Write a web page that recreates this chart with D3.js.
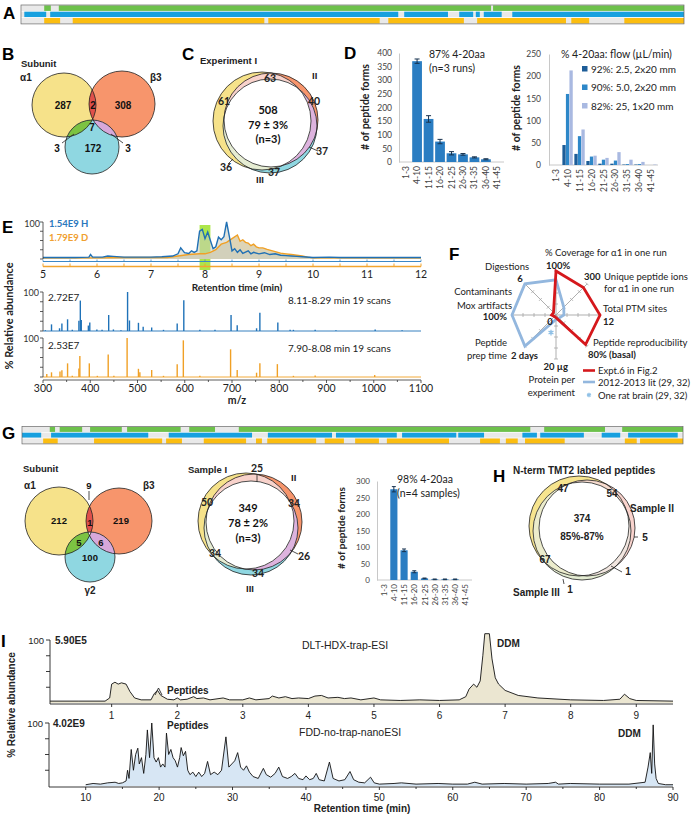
<!DOCTYPE html>
<html lang="en">
<head>
<meta charset="UTF-8">
<title>Figure panels A-I</title>
<script src="https://cdnjs.cloudflare.com/ajax/libs/d3/7.8.5/d3.min.js"></script>
<style>
  body { margin: 0; background: #fff; }
  svg { display: block; }
</style>
</head>
<body>
<svg id="fig" width="697" height="816"></svg>
<script>
// ---------- data ----------
// sequence coverage (% of sequence), A and G
const covA_green  = [[3.5,4.5],[5.7,70.9],[71.2,100]];
const covA_blue   = [[0.5,3.8],[4.4,56.9],[57.8,64.4],[66.1,68.2],[68.6,69.2],[69.8,72.5],[74.1,100]];
const covA_orange = [[3.5,5.9],[7.8,36.7],[37.3,54.1],[55.4,66.8],[68.8,82.2],[83.0,85.7],[91.0,100]];
const covG_green  = [[4.2,5.0],[5.7,9.1],[10.3,15.1],[15.9,24.0],[25.3,29.2],[32.8,76.9],[79.0,88.2],[90.8,100]];
const covG_blue   = [[0,2.9],[4.4,19.1],[22.2,34.8],[37.2,46.9],[47.5,56.7],[57.5,65.7],[66.0,69.9],[75.7,77.9],[78.4,85.0],[87.7,90.5],[91.7,99.2]];
const covG_orange = [[3.2,5.4],[10.9,21.2],[21.8,24.2],[27.5,33.9],[35.4,36.3],[37.1,44.5],[45.8,48.7],[50.4,54.0],[55.2,64.6],[69.3,72.3],[73.2,75.0],[76.1,82.1],[91.2,93.0],[93.5,100]];

// venn counts
const subunitNames = ["α1","β3","γ2"];
const vennB_labels = ["287","308","172","2","3","3","7"];
const vennC_labels = ["61","40","37","63","37","36"];
const vennC_center = ["508","79 ± 3%","(n=3)"];
const vennG_labels = ["212","219","100","9","1","5","6"];
const vennGs_labels = ["50","34","34","25","26","34"];
const vennGs_center = ["349","78 ± 2%","(n=3)"];
const vennH_labels = ["47","54","67","5","1","1"];
const vennH_center = ["374","85%-87%"];

// peptide length distributions
const lengthBins = ["1-3","4-10","11-15","16-20","21-25","26-30","31-35","36-40","41-45"];
const runMean = [0,370,158,75,32,28,17,10,0];
const runErr  = [0,8,12,8,6,3,2,2,0];
const flowNames = ["92%: 2.5, 2x20 mm","90%: 5.0, 2x20 mm","82%: 25, 1x20 mm"];
const flow2_5 = [0,45,25,9,3,3,1,1,0];
const flow5_0 = [0,160,65,19,12,10,2,2,0];
const flow25  = [0,213,80,21,16,29,12,7,1];
const sampMean = [0,275,90,25,5,2,2,2,0];
const sampErr  = [0,8,4,3,1,1,1,1,0];

// E: chromatograms (min, %)
const ticH = [[5.0,4],[5.3,4],[5.6,4],[5.85,5],[5.88,12],[5.92,5],[6.1,5],[6.2,8],[6.3,7],[6.5,5],[6.8,5],[7.0,5],[7.2,6],[7.4,8],[7.5,14],[7.55,30],[7.62,17],[7.7,15],[7.75,22],[7.8,18],[7.85,22],[7.9,75],[7.95,80],[8.0,55],[8.05,73],[8.1,50],[8.15,28],[8.2,33],[8.25,59],[8.3,52],[8.35,60],[8.4,100],[8.45,62],[8.5,22],[8.55,28],[8.6,18],[8.65,25],[8.7,15],[8.8,22],[8.85,14],[8.9,18],[9.0,14],[9.1,17],[9.2,12],[9.3,14],[9.4,10],[9.5,9],[9.6,8],[9.7,7],[9.8,6],[10.0,4],[10.3,5],[10.5,4],[11.0,4],[11.5,4],[12.0,4]];
const ticD = [[5.0,3],[5.5,3],[6.0,3],[6.5,4],[7.0,4],[7.3,4],[7.5,8],[7.7,12],[7.9,14],[8.0,14],[8.1,18],[8.2,25],[8.3,40],[8.4,45],[8.5,55],[8.6,65],[8.65,48],[8.7,52],[8.75,45],[8.8,43],[8.85,36],[8.9,40],[8.95,33],[9.0,30],[9.07,30],[9.15,26],[9.2,24],[9.3,20],[9.4,16],[9.5,14],[9.6,12],[9.7,10],[9.8,8],[9.9,5],[10.0,3],[10.5,3],[11,3],[12,3]];
// E: spectra (m/z, %)
const specH = [[305,2],[318,17],[335,7],[340,19],[352,30],[362,3],[376,26],[379,78],[381,28],[396,14],[399,22],[414,4],[425,3],[439,41],[449,4],[465,2],[479,100],[483,27],[502,21],[512,11],[530,9],[555,3],[584,19],[598,79],[632,3],[664,3],[698,41],[711,15],[752,7],[759,47],[797,22],[823,3],[830,3],[876,3],[920,2],[1003,4],[1060,2]];
const specD = [[308,8],[318,12],[336,14],[340,17],[352,35],[362,3],[376,22],[378,54],[398,35],[415,3],[438,58],[450,3],[478,100],[502,21],[505,12],[530,18],[555,3],[584,33],[597,94],[632,3],[697,71],[711,18],[752,11],[759,35],[796,33],[830,3],[876,4],[1002,5]];

// F: radar (fraction of axis max)
const radarExpt6 = [1.0,0.88,1.0,0.95,0.06,0.05,0.1,0.08];
const radarLit   = [0.8,0.25,0.18,0.1,0.1,1.0,1.0,1.0];
const ratBrain   = [4,0.4];

// I: chromatograms (min, %)
const dltTrace = [[0.06,3],[0.5,3],[0.9,3],[0.97,8],[1.0,30],[1.05,33],[1.1,30],[1.15,32],[1.22,30],[1.28,18],[1.35,8],[1.45,5],[1.6,5],[1.65,15],[1.7,20],[1.75,12],[1.85,6],[1.95,5],[2.0,8],[2.05,5],[2.15,6],[2.25,10],[2.3,7],[2.4,8],[2.5,5],[2.7,8],[2.8,5],[3.0,5],[3.1,8],[3.2,5],[3.4,7],[3.45,11],[3.55,8],[3.65,10],[3.75,7],[3.85,8],[4.0,7],[4.1,11],[4.2,12],[4.3,8],[4.45,9],[4.55,7],[4.65,8],[4.8,5],[5.0,8],[5.1,5],[5.4,4],[5.7,5],[6.0,4],[6.3,5],[6.4,10],[6.45,22],[6.52,30],[6.57,25],[6.62,35],[6.66,75],[6.69,110],[6.76,110],[6.8,70],[6.85,40],[6.9,30],[7.0,20],[7.2,12],[7.5,8],[8.0,5],[8.5,4],[8.75,6],[8.82,14],[8.9,7],[9.0,4],[9.56,3]];
const fddTrace = [[10,2],[11,4],[12,3],[13,5],[14,6],[14.5,4],[15,5],[15.5,8],[15.7,25],[15.9,12],[16.2,58],[16.5,25],[16.8,50],[17.1,60],[17.3,35],[17.6,45],[17.9,20],[18.2,50],[18.4,89],[18.7,45],[19.0,100],[19.3,45],[19.6,38],[19.9,45],[20.2,30],[20.5,35],[20.8,30],[21.0,84],[21.3,50],[21.6,58],[21.9,45],[22.2,40],[22.5,30],[22.8,45],[23.0,61],[23.3,48],[23.6,55],[23.9,25],[24.2,18],[24.6,22],[25.0,15],[25.4,22],[25.8,15],[26.2,20],[26.6,39],[27.0,18],[27.5,22],[28.0,18],[28.5,25],[29.1,78],[29.5,30],[29.9,35],[30.3,40],[30.7,53],[31.1,30],[31.5,25],[31.9,32],[32.3,22],[32.8,15],[33.5,12],[34.2,28],[34.6,18],[35.2,14],[35.8,20],[36.3,30],[36.8,15],[37.5,12],[38.0,15],[38.5,20],[39.0,12],[39.6,10],[40.0,16],[40.5,10],[41.0,12],[41.4,20],[41.8,10],[42.5,8],[43.2,38],[43.7,12],[44.5,8],[45.3,10],[46.0,23],[46.5,10],[47.2,6],[48.0,5],[48.8,14],[49.3,5],[50,3],[52,4],[53,5],[55,3],[58,4],[60,3],[62,3],[63,6],[64,3],[67,4],[70,3],[73,4],[74,6],[74.4,3],[76,4],[80,3],[84,3],[85.5,5],[86.2,6],[86.6,30],[86.9,53],[87.1,20],[87.3,97],[87.5,35],[87.7,12],[88,4],[89,2],[90,2]];

// ---------- drawing ----------
const SANS = "'Liberation Sans', Arial, sans-serif";
const CAL = "Lato, 'Open Sans', sans-serif";
const svg = d3.select("#fig");
const defs = svg.append("defs");
svg.append("rect").attr("width", 697).attr("height", 816).attr("fill", "#fff");

function label(g, x, y, s, o = {}) {
  const t = g.append("text").attr("x", x).attr("y", y).text(s)
    .attr("font-family", o.f || CAL).attr("font-size", o.s || 10)
    .attr("font-weight", o.w || "normal").attr("fill", o.c || "#222")
    .attr("text-anchor", o.a || "start");
  if (o.r) t.attr("transform", `rotate(${o.r},${x},${y})`);
  return t;
}
function seg(g, x1, y1, x2, y2, c = "#222", w = 0.8) {
  g.append("line").attr("x1", x1).attr("y1", y1).attr("x2", x2).attr("y2", y2)
    .attr("stroke", c).attr("stroke-width", w);
}
function asterisk(g, x, y, size) {
  g.append("path").attr("transform", `translate(${x},${y})`)
    .attr("d", d3.symbol(d3.symbolAsterisk, size)())
    .attr("fill", "none").attr("stroke", "#8fc0e6").attr("stroke-width", 1.3);
}

// panel letters
[["A",3,19],["B",2,60],["C",182,60],["D",344,59],["E",2,233],["F",449,260],["G",2,439],["H",493,482],["I",1,647]]
  .forEach(([s,x,y]) => label(svg, x, y, s, {f: SANS, s: 17, w: "bold", c: "#000"}));

// ---- coverage bars ----
function coverageBar(rows, x0, x1, y0, rowH) {
  const x = d3.scaleLinear().domain([0, 100]).range([x0, x1]);
  const g = svg.append("g");
  rows.forEach((row, i) => {
    const y = y0 + i * rowH;
    g.append("rect").attr("x", x0).attr("y", y).attr("width", x1 - x0).attr("height", rowH)
      .attr("fill", "#e9e9e9").attr("stroke", "#fff").attr("stroke-width", 0.6);
    g.selectAll(null).data(row.segs).join("rect")
      .attr("x", d => x(d[0])).attr("y", y + 0.4)
      .attr("width", d => x(d[1]) - x(d[0])).attr("height", rowH - 0.8)
      .attr("fill", row.color);
  });
  g.append("rect").attr("x", x0).attr("y", y0).attr("width", x1 - x0).attr("height", rowH * rows.length)
    .attr("fill", "none").attr("stroke", "#666").attr("stroke-width", 0.7);
}
const GREEN = "#6dc14b", BLUE = "#17a0df", GOLD = "#fbbd10";
coverageBar([{segs: covA_green, color: GREEN}, {segs: covA_blue, color: BLUE}, {segs: covA_orange, color: GOLD}], 21, 684, 5, 6.3);
coverageBar([{segs: covG_green, color: GREEN}, {segs: covG_blue, color: BLUE}, {segs: covG_orange, color: GOLD}], 22, 683, 426.5, 5.8);

// ---- venn helper ----
let vid = 0;
function venn3(cs, fills, pairFills, tripleFill) {
  const g = svg.append("g");
  const id = "v" + (vid++);
  cs.forEach((c, i) => defs.append("clipPath").attr("id", id + "_" + i)
    .append("circle").attr("cx", c[0]).attr("cy", c[1]).attr("r", c[2]));
  cs.forEach((c, i) => g.append("circle").attr("cx", c[0]).attr("cy", c[1]).attr("r", c[2]).attr("fill", fills[i]));
  [[0,1],[1,2],[0,2]].forEach(([a, b], k) => {
    g.append("g").attr("clip-path", `url(#${id}_${a})`).append("circle")
      .attr("cx", cs[b][0]).attr("cy", cs[b][1]).attr("r", cs[b][2]).attr("fill", pairFills[k]);
  });
  g.append("g").attr("clip-path", `url(#${id}_0)`).append("g").attr("clip-path", `url(#${id}_1)`)
    .append("circle").attr("cx", cs[2][0]).attr("cy", cs[2][1]).attr("r", cs[2][2]).attr("fill", tripleFill);
  cs.forEach(c => g.append("circle").attr("cx", c[0]).attr("cy", c[1]).attr("r", c[2])
    .attr("fill", "none").attr("stroke", "#222").attr("stroke-width", 0.8));
  return g;
}
const YEL = "#f6e28a", ORG = "#f7956c", CYA = "#8fd7e1";
const ringPairs = ["#f8d2cb", "#ddb3de", "#e6edd3"];

// ---- B ----
const gB = venn3([[64,105,32],[122,104,33],[92,147,27]], [YEL, ORG, CYA], ["#e0504a", "#d7a8da", "#7cc342"], "#eef3e8");
label(gB, 21, 67, "Subunit", {f: SANS, s: 9.5, w: "bold"});
label(gB, 20, 81, subunitNames[0], {f: SANS, s: 10, w: "bold"});
label(gB, 150, 81, subunitNames[1], {f: SANS, s: 10, w: "bold"});
[[63,109],[123,109],[93,152],[93,109],[57,152],[128,152],[92,131]].forEach((p, i) =>
  label(gB, p[0], p[1], vennB_labels[i], {f: SANS, s: 10, w: "bold", a: "middle", c: "#111"}));
seg(gB, 62, 143, 74, 134); seg(gB, 123, 143, 111, 134);

// ---- C ----
const gC = venn3([[262,121,49],[271,120,47],[270,126,47]], [YEL, ORG, CYA], ringPairs, "#fff");
label(gC, 200, 64, "Experiment I", {f: SANS, s: 9.5, w: "bold"});
label(gC, 312, 79, "II", {f: SANS, s: 9.5, w: "bold"});
label(gC, 256, 183, "III", {f: SANS, s: 9.5, w: "bold"});
[[224,105],[314,105],[322,155],[270,82],[274,176],[226,171]].forEach((p, i) =>
  label(gC, p[0], p[1], vennC_labels[i], {s: 10.5, w: "bold", a: "middle", c: "#222"}));
seg(gC, 309, 147, 318, 151); seg(gC, 233, 159, 228, 164);
vennC_center.forEach((s, i) => label(gC, 268, 114 + i * 14.5, s, {s: 11, a: "middle", c: "#111", w: "bold"}));

// ---- G venns ----
const gG = venn3([[59,521,34],[119,521,33],[90,557,25]], [YEL, ORG, CYA], ["#e0504a", "#d7a8da", "#7cc342"], "#f3f3f3");
label(gG, 23, 472, "Subunit", {f: SANS, s: 9.5, w: "bold"});
label(gG, 24, 489, subunitNames[0], {f: SANS, s: 10, w: "bold"});
label(gG, 143, 489, subunitNames[1], {f: SANS, s: 10, w: "bold"});
label(gG, 90, 594, subunitNames[2], {f: SANS, s: 10, w: "bold", a: "middle"});
[[59,524],[121,524],[90,561],[89,489],[90,526],[79,546],[101,546]].forEach((p, i) =>
  label(gG, p[0], p[1], vennG_labels[i], {f: SANS, s: 9.5, w: "bold", a: "middle", c: "#111"}));
seg(gG, 89, 491, 89, 500);

const gGs = venn3([[246,521,48],[254,522,48],[251,528,47]], [YEL, ORG, CYA], ringPairs, "#fff");
label(gGs, 188, 473, "Sample I", {f: SANS, s: 9.5, w: "bold"});
label(gGs, 291, 481, "II", {f: SANS, s: 9.5, w: "bold"});
label(gGs, 250, 592, "III", {f: SANS, s: 9.5, w: "bold", a: "middle"});
[[207,506],[294,507],[215,557],[257,472],[304,560],[258,577]].forEach((p, i) =>
  label(gGs, p[0], p[1], vennGs_labels[i], {s: 10.5, w: "bold", a: "middle"}));
seg(gGs, 257, 475, 257, 482); seg(gGs, 290, 550, 298, 554);
vennGs_center.forEach((s, i) => label(gGs, 248, 512 + i * 15, s, {s: 11, a: "middle", c: "#111", w: "bold"}));

// ---- H ----
const gH = venn3([[579,526,50],[587,528,48],[582,531,49]], ["#f6e48e", "#f9d3cd", "#e4ecd2"], ["#f8dccf", "#f2e6e0", "#ececcc"], "#fff");
label(gH, 513, 474, "N-term TMT2 labeled peptides", {f: SANS, s: 10, w: "bold"});
label(gH, 630, 512, "Sample II", {f: SANS, s: 10, w: "bold"});
label(gH, 513, 596, "Sample III", {f: SANS, s: 10, w: "bold"});
[[563,492],[612,497],[545,563],[645,541],[628,575],[570,593]].forEach((p, i) =>
  label(gH, p[0], p[1], vennH_labels[i], {f: SANS, s: 10, w: "bold", a: "middle"}));
seg(gH, 634, 537, 638, 537); seg(gH, 611, 566, 622, 572); seg(gH, 563, 579, 564, 584);
vennH_center.forEach((s, i) => label(gH, 582, 522 + i * 18, s, {f: SANS, s: 10, w: "bold", a: "middle"}));

// ---- bar chart helpers ----
function styleAxis(g) {
  g.select(".domain").attr("stroke", "#c8c8c8");
  g.selectAll("text").attr("font-family", CAL).attr("font-size", 8.5).attr("fill", "#444");
}
function binLabels(g, xs, y) {
  g.selectAll(null).data(lengthBins).join("text")
    .attr("transform", d => `translate(${xs(d) + xs.bandwidth() / 2 + 3},${y}) rotate(-90)`)
    .attr("text-anchor", "end").attr("font-family", CAL).attr("font-size", 8.5).attr("fill", "#444")
    .text(d => d);
}
function errorBars(g, xs, ys, mean, err, w) {
  lengthBins.forEach((b, i) => {
    if (!err[i]) return;
    const cx = xs(b) + xs.bandwidth() / 2;
    seg(g, cx, ys(mean[i] + err[i]), cx, ys(mean[i] - err[i]), "#17324f", 1);
    seg(g, cx - w, ys(mean[i] + err[i]), cx + w, ys(mean[i] + err[i]), "#17324f", 1);
    seg(g, cx - w, ys(mean[i] - err[i]), cx + w, ys(mean[i] - err[i]), "#17324f", 1);
  });
}

// ---- D left ----
const dL = svg.append("g");
const xDL = d3.scaleBand().domain(lengthBins).range([399, 504]).padding(0.15);
const yDL = d3.scaleLinear().domain([0, 400]).range([162, 53]);
dL.append("g").attr("transform", "translate(399,0)")
  .call(d3.axisLeft(yDL).tickValues(d3.range(0, 401, 50)).tickSize(0).tickPadding(7)).call(styleAxis);
seg(dL, 399, 162, 504, 162, "#c8c8c8", 1);
dL.selectAll(null).data(lengthBins).join("rect")
  .attr("x", d => xDL(d)).attr("width", xDL.bandwidth())
  .attr("y", (d, i) => yDL(runMean[i])).attr("height", (d, i) => yDL(0) - yDL(runMean[i]))
  .attr("fill", "#2a7dc2");
errorBars(dL, xDL, yDL, runMean, runErr, 2.5);
binLabels(dL, xDL, 166);
label(dL, 369, 107, "# of peptide forms", {s: 10.5, w: "bold", a: "middle", r: -90, c: "#222"});
label(dL, 429, 58, "87% 4-20aa", {s: 10.5});
label(dL, 429, 72, "(n=3 runs)", {s: 10.5});

// ---- D right ----
const dR = svg.append("g");
const xDR = d3.scaleBand().domain(lengthBins).range([549, 658]).padding(0.1);
const xDRi = d3.scaleBand().domain([0, 1, 2]).range([0, xDR.bandwidth()]).padding(0.06);
const yDR = d3.scaleLinear().domain([0, 250]).range([165, 54]);
dR.append("g").attr("transform", "translate(549,0)")
  .call(d3.axisLeft(yDR).tickValues(d3.range(0, 251, 50)).tickSize(0).tickPadding(8)).call(styleAxis);
seg(dR, 549, 165, 658, 165, "#c8c8c8", 1);
const flowSeries = [flow2_5, flow5_0, flow25];
const flowColors = ["#1d5d98", "#2d87c8", "#a9b9e1"];
flowSeries.forEach((vals, k) => {
  dR.selectAll(null).data(lengthBins).join("rect")
    .attr("x", d => xDR(d) + xDRi(k)).attr("width", xDRi.bandwidth())
    .attr("y", (d, i) => yDR(vals[i])).attr("height", (d, i) => yDR(0) - yDR(vals[i]))
    .attr("fill", flowColors[k]);
});
binLabels(dR, xDR, 169);
label(dR, 520, 108, "# of peptide forms", {s: 10.5, w: "bold", a: "middle", r: -90, c: "#222"});
label(dR, 561, 58, "% 4-20aa: flow (µL/min)", {s: 10.5});
flowNames.forEach((s, k) => {
  dR.append("rect").attr("x", 582).attr("y", 66 + k * 18.5).attr("width", 5.5).attr("height", 5.5).attr("fill", flowColors[k]);
  label(dR, 591, 72.5 + k * 18.5, s, {s: 10});
});

// ---- G bar chart ----
const gBar = svg.append("g");
const xGB = d3.scaleBand().domain(lengthBins).range([377, 472]).padding(0.3);
const yGB = d3.scaleLinear().domain([0, 300]).range([580, 481]);
gBar.append("g").attr("transform", "translate(377,0)")
  .call(d3.axisLeft(yGB).tickValues(d3.range(0, 301, 50)).tickSize(0).tickPadding(7)).call(styleAxis);
gBar.selectAll(".tick text").attr("font-size", 8);
seg(gBar, 377, 580, 472, 580, "#c8c8c8", 1);
gBar.selectAll(null).data(lengthBins).join("rect")
  .attr("x", d => xGB(d)).attr("width", xGB.bandwidth())
  .attr("y", (d, i) => yGB(sampMean[i])).attr("height", (d, i) => yGB(0) - yGB(sampMean[i]))
  .attr("fill", "#2a7dc2");
errorBars(gBar, xGB, yGB, sampMean, sampErr, 2);
binLabels(gBar, xGB, 584);
gBar.selectAll("text[transform]").attr("font-size", 8);
label(gBar, 345, 528, "# of peptide forms", {s: 10, w: "bold", a: "middle", r: -90});
label(gBar, 397, 483, "98% 4-20aa", {s: 10.5});
label(gBar, 397, 497, "(n=4 samples)", {s: 10.5});

// ---- E: chromatogram ----
const gE = svg.append("g");
const xRT = d3.scaleLinear().domain([5, 12]).range([43, 421]);
const yRT = d3.scaleLinear().domain([0, 100]).range([259, 222]);
gE.append("rect").attr("x", xRT(7.9)).attr("y", 225).attr("width", xRT(8.1) - xRT(7.9)).attr("height", 45)
  .attr("fill", "#9fe22c").attr("opacity", 0.85);
const areaRT = d3.area().x(d => xRT(d[0])).y0(yRT(0)).y1(d => yRT(d[1]));
const lineRT = d3.line().x(d => xRT(d[0])).y(d => yRT(d[1]));
gE.append("path").attr("d", areaRT(ticD)).attr("fill", "#d9cfae").attr("opacity", 0.9);
gE.append("path").attr("d", areaRT(ticH)).attr("fill", "#c9ccbf").attr("opacity", 0.55);
gE.append("path").attr("d", lineRT(ticD)).attr("fill", "none").attr("stroke", "#f0a025").attr("stroke-width", 1.4);
gE.append("path").attr("d", lineRT(ticH)).attr("fill", "none").attr("stroke", "#2070b4").attr("stroke-width", 1.4);
seg(gE, 43, 222, 43, 259, "#333", 0.8);
[0, 25, 50, 75, 100].forEach(v => seg(gE, 40, yRT(v), 43, yRT(v), "#333", 0.8));
seg(gE, 43, 261.5, 421, 261.5, "#3a87c8", 1.2);
seg(gE, 43, 266.5, 421, 266.5, "#f2a530", 1.6);
d3.range(5, 12.01, 0.5).forEach(t => {
  seg(gE, xRT(t), 261.5, xRT(t), 259.5, "#3a87c8", 0.8);
  seg(gE, xRT(t), 266.5, xRT(t), 263.5, "#f2a530", 1);
});
d3.range(5, 13).forEach(t => label(gE, xRT(t), 278, String(t), {s: 10.5, a: "middle"}));
label(gE, 237, 291, "Retention time (min)", {s: 10, w: "bold", a: "middle"});
label(gE, 40, 227, "100", {s: 9, a: "end", c: "#333"});
label(gE, 49, 227, "1.54E9  H", {s: 9.5, w: "bold", c: "#2a78bd"});
label(gE, 49, 241, "1.79E9  D", {s: 9.5, w: "bold", c: "#f0a030"});

// ---- E: spectra ----
const xMZ = d3.scaleLinear().domain([300, 1100]).range([43, 421]);
function spectrum(peaks, ys, color, yAxisTop) {
  const g = svg.append("g");
  g.selectAll(null).data(peaks).join("line")
    .attr("x1", d => xMZ(d[0])).attr("x2", d => xMZ(d[0]))
    .attr("y1", ys(0)).attr("y2", d => ys(d[1]))
    .attr("stroke", color).attr("stroke-width", 1.4);
  seg(g, 43, ys(0), 421, ys(0), color, 0.9);
  seg(g, 43, yAxisTop, 43, ys(0), "#333", 0.8);
  [0, 25, 50, 75, 100].forEach(v => seg(g, 40, ys(v), 43, ys(v), "#333", 0.8));
  label(g, 39, ys(100) + 4, "100", {s: 9, a: "end", c: "#333"});
  return g;
}
const yS1 = d3.scaleLinear().domain([0, 100]).range([331, 292]);
const yS2 = d3.scaleLinear().domain([0, 100]).range([377, 338]);
const s1 = spectrum(specH, yS1, "#1f72b8", 292);
const s2 = spectrum(specD, yS2, "#f0a025", 338);
label(s1, 48, 301, "2.72E7", {s: 10});
label(s1, 288, 304, "8.11-8.29 min    19 scans", {s: 10});
label(s2, 48, 349, "2.53E7", {s: 10});
label(s2, 288, 352, "7.90-8.08 min    19 scans", {s: 10});
seg(svg, 43, 380, 421, 380, "#333", 0.8);
d3.range(300, 1101, 50).forEach(m => seg(svg, xMZ(m), 380, xMZ(m), m % 100 ? 382 : 383, "#333", 0.8));
d3.range(300, 1101, 100).forEach(m => label(svg, xMZ(m), 392, String(m), {s: 10.5, a: "middle"}));
label(svg, 237, 404, "m/z", {s: 10.5, w: "bold", a: "middle"});
label(svg, 13, 316, "% Relative abundance", {s: 11, w: "bold", a: "middle", r: -90});

// ---- F: radar ----
const gF = svg.append("g");
const cx = 556, cy = 315;
const rR = d3.scaleLinear().domain([0, 1]).range([0, 44]);
const ang = i => i * Math.PI / 4;
d3.range(8).forEach(i => {
  const a = ang(i), sx = Math.sin(a), sy = -Math.cos(a);
  seg(gF, cx, cy, cx + rR(1) * sx, cy + rR(1) * sy, "#a6a6a6", 0.9);
  [0.25, 0.5, 0.75, 1].forEach(v => {
    const px = cx + rR(v) * sx, py = cy + rR(v) * sy;
    seg(gF, px - 2 * Math.cos(a), py - 2 * Math.sin(a), px + 2 * Math.cos(a), py + 2 * Math.sin(a), "#a6a6a6", 0.8);
  });
});
const radial = d3.lineRadial().angle((d, i) => ang(i)).radius(d => rR(d)).curve(d3.curveLinearClosed);
gF.append("path").attr("transform", `translate(${cx},${cy})`).attr("d", radial(radarLit))
  .attr("fill", "none").attr("stroke", "#93b7de").attr("stroke-width", 2.8).attr("stroke-linejoin", "miter");
gF.append("path").attr("transform", `translate(${cx},${cy})`).attr("d", radial(radarExpt6))
  .attr("fill", "none").attr("stroke", "#d5181c").attr("stroke-width", 2.8).attr("stroke-linejoin", "miter");
asterisk(gF, cx + rR(ratBrain[1]) * Math.sin(ang(ratBrain[0])) - 5, cy - rR(ratBrain[1]) * Math.cos(ang(ratBrain[0])), 22);
const FS = 9.5;
label(gF, 545, 255.5, "% Coverage for α1 in one run", {s: FS});
label(gF, 546, 269, "100%", {s: FS, w: "bold"});
label(gF, 485, 270, "Digestions", {s: FS});
label(gF, 520, 281.5, "6", {s: FS, w: "bold", a: "middle"});
label(gF, 584, 280, "300", {s: FS, w: "bold"});
label(gF, 604, 280, "Unique peptide ions", {s: FS});
label(gF, 604, 292, "for α1 in one run", {s: FS});
label(gF, 512, 295, "Contaminants", {s: FS, a: "end"});
label(gF, 512, 308.5, "Mox artifacts", {s: FS, a: "end"});
label(gF, 507, 320, "100%", {s: FS, w: "bold", a: "end"});
label(gF, 603, 312, "Total PTM sites", {s: FS});
label(gF, 603, 324.5, "12", {s: FS, w: "bold"});
label(gF, 550, 325, "0", {s: FS, w: "bold", a: "middle"});
label(gF, 507, 346, "Peptide", {s: FS, a: "end"});
label(gF, 507, 358.5, "prep time", {s: FS, a: "end"});
label(gF, 511, 358.5, "2 days", {s: FS, w: "bold"});
label(gF, 593, 345.5, "Peptide reproducibility", {s: FS});
label(gF, 588, 358, "80% (basal)", {s: FS, w: "bold"});
label(gF, 568, 370, "20 µg", {s: FS, w: "bold", a: "end"});
label(gF, 575, 383, "Protein per", {s: FS, a: "end"});
label(gF, 575, 396, "experiment", {s: FS, a: "end"});
seg(gF, 583, 370.5, 595, 370.5, "#d5181c", 2.6);
label(gF, 598, 374, "Expt.6 in Fig.2", {s: FS});
seg(gF, 583, 382, 595, 382, "#93b7de", 2.6);
label(gF, 598, 386, "2012-2013 lit (29, 32)", {s: FS});
asterisk(gF, 589, 395, 14);
label(gF, 598, 399, "One rat brain (29, 32)", {s: FS});

// ---- I: chromatograms ----
const gI = svg.append("g");
const xI1 = d3.scaleLinear().domain([0.06, 9.56]).range([50, 673]);
const yI1 = d3.scaleLinear().domain([0, 100]).range([703, 640]);
const xI2 = d3.scaleLinear().domain([5, 90]).range([49, 673]);
const yI2 = d3.scaleLinear().domain([0, 100]).range([786, 723]);
gI.append("path").attr("d", d3.area().x(d => xI1(d[0])).y0(yI1(0)).y1(d => yI1(d[1]))(dltTrace))
  .attr("fill", "#ebe6d1");
gI.append("path").attr("d", d3.line().x(d => xI1(d[0])).y(d => yI1(d[1]))(dltTrace))
  .attr("fill", "none").attr("stroke", "#111").attr("stroke-width", 0.9);
gI.append("path").attr("d", d3.area().x(d => xI2(d[0])).y0(yI2(0)).y1(d => yI2(d[1]))(fddTrace))
  .attr("fill", "#d7e6f4");
gI.append("path").attr("d", d3.line().x(d => xI2(d[0])).y(d => yI2(d[1]))(fddTrace))
  .attr("fill", "none").attr("stroke", "#111").attr("stroke-width", 0.9);
// axes
seg(gI, 50, 704, 673, 704, "#222", 0.9);
seg(gI, 50, 640, 50, 704, "#222", 0.9);
[25, 50, 75, 100].forEach(v => seg(gI, 46, yI1(v), 50, yI1(v), "#222", 0.9));
d3.range(1, 10).forEach(t => {
  seg(gI, xI1(t), 704, xI1(t), 707, "#222", 0.9);
  label(gI, xI1(t), 719, String(t), {f: SANS, s: 10, a: "middle"});
});
seg(gI, 49, 787, 673, 787, "#222", 0.9);
seg(gI, 49, 723, 49, 787, "#222", 0.9);
[25, 50, 75, 100].forEach(v => seg(gI, 45, yI2(v), 49, yI2(v), "#222", 0.9));
d3.range(10, 91, 5).forEach(t => seg(gI, xI2(t), 787, xI2(t), t % 10 ? 789 : 790, "#222", 0.9));
d3.range(10, 91, 10).forEach(t => label(gI, xI2(t), 801, String(t), {f: SANS, s: 10, a: "middle"}));
label(gI, 362, 812, "Retention time (min)", {f: SANS, s: 10, w: "bold", a: "middle"});
label(gI, 15, 705, "% Relative abundance", {f: SANS, s: 10, w: "bold", a: "middle", r: -90});
label(gI, 44, 644, "100", {f: SANS, s: 9.5, a: "end"});
label(gI, 55, 644, "5.90E5", {f: SANS, s: 10, w: "bold"});
label(gI, 302, 649, "DLT-HDX-trap-ESI", {f: SANS, s: 10.5});
label(gI, 497, 647, "DDM", {f: SANS, s: 10, w: "bold"});
label(gI, 167, 694, "Peptides", {f: SANS, s: 10, w: "bold"});
gI.append("path").attr("d", "M155,695 L158.5,688 L162,695").attr("fill", "none").attr("stroke", "#222").attr("stroke-width", 0.9);
label(gI, 43, 727, "100", {f: SANS, s: 9.5, a: "end"});
label(gI, 53, 727, "4.02E9", {f: SANS, s: 10, w: "bold"});
label(gI, 167, 729, "Peptides", {f: SANS, s: 10, w: "bold"});
label(gI, 299, 736, "FDD-no-trap-nanoESI", {f: SANS, s: 10.5});
label(gI, 618, 737, "DDM", {f: SANS, s: 10, w: "bold"});
</script>
</body>
</html>
